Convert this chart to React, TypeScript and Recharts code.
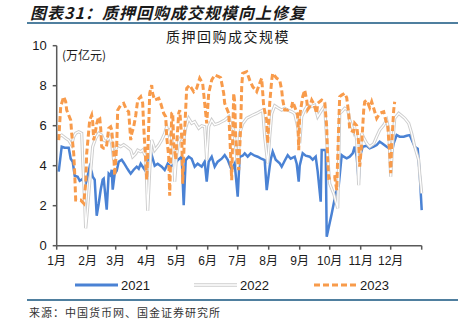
import { LineChart, Line, XAxis, YAxis } from 'recharts'

// x = day of year (0 = 1月1日), y = 万亿元
const monthTicks = [0, 31, 59, 90, 120, 151, 181, 212, 243, 273, 304, 334, 365]
const monthLabels = ['1月', '2月', '3月', '4月', '5月', '6月', '7月', '8月', '9月', '10月', '11月', '12月', '']
const yTicks = [0, 2, 4, 6, 8, 10]

const days2021 = [2, 5, 8, 12, 14, 16, 18, 21, 23, 25, 27, 29, 31, 33, 35, 36, 38, 40, 42, 44, 46, 47, 50, 52, 54, 55, 56, 58, 60, 62, 65, 67, 70, 72, 74, 77, 80, 82, 84, 86, 88, 90, 93, 95, 98, 101, 105, 108, 111, 114, 118, 121, 125, 127, 129, 132, 135, 138, 141, 145, 148, 150, 152, 155, 158, 161, 165, 168, 171, 175, 178, 181, 183, 186, 188, 191, 194, 198, 201, 204, 208, 210, 213, 214, 216, 219, 223, 225, 228, 231, 234, 238, 240, 242, 243, 246, 249, 253, 256, 259, 261, 264, 265, 269, 270, 275, 279, 282, 285, 287, 290, 293, 296, 298, 300, 302, 303, 306, 310, 313, 317, 320, 323, 326, 330, 333, 335, 337, 340, 343, 347, 350, 353, 355, 358, 361, 363, 365]
const vals2021 = [3.7, 4.95, 4.9, 4.9, 4.35, 4.2, 3.5, 3.45, 3.25, 3.3, 3.4, 3.1, 3.5, 3.95, 3.7, 3.45, 3.3, 1.5, 2.1, 2.8, 3.3, 3.35, 1.8, 3.6, 3.5, 3.8, 2.8, 3.6, 3.75, 4.2, 4.3, 4.15, 3.9, 3.75, 3.6, 3.8, 3.95, 3.85, 4.1, 3.95, 3.8, 4.2, 4.35, 4.53, 4.0, 4.1, 3.95, 3.78, 4.1, 3.95, 4.1, 4.28, 4.45, 2.03, 4.28, 4.45, 4.35, 3.95, 4.1, 3.95, 4.2, 3.2, 4.2, 4.45, 3.95, 4.2, 4.35, 4.53, 4.3, 3.78, 4.1, 2.45, 4.45, 4.5, 4.62, 4.45, 4.62, 4.5, 4.45, 4.37, 4.28, 2.78, 3.95, 4.3, 4.7, 4.3, 4.12, 3.95, 4.25, 4.53, 4.35, 4.45, 4.1, 3.2, 4.0, 4.62, 4.5, 4.45, 4.3, 4.45, 3.7, 2.2, 4.78, 4.78, 0.45, 1.6, 2.6, 3.0, 4.53, 4.45, 4.37, 4.45, 4.62, 4.95, 4.45, 3.2, 4.4, 4.95, 5.0, 4.87, 4.95, 5.03, 5.2, 5.1, 4.95, 4.85, 4.62, 5.12, 5.53, 5.45, 5.45, 5.5, 5.53, 5.3, 4.95, 4.85, 3.62, 1.78]

const days2022 = [2, 5, 9, 12, 15, 17, 19, 22, 25, 26, 28, 29, 31, 34, 36, 39, 42, 45, 47, 50, 53, 55, 57, 59, 61, 64, 67, 70, 74, 76, 79, 81, 84, 86, 89, 91, 93, 95, 97, 98, 102, 105, 108, 110, 112, 114, 117, 118, 120, 122, 124, 127, 129, 132, 135, 138, 142, 145, 148, 150, 152, 155, 158, 162, 165, 168, 172, 174, 177, 179, 181, 183, 186, 190, 193, 196, 200, 203, 206, 208, 211, 213, 215, 218, 221, 225, 228, 231, 235, 238, 241, 243, 245, 248, 251, 254, 258, 261, 265, 268, 271, 273, 277, 281, 283, 285, 288, 291, 293, 297, 298, 300, 302, 303, 305, 307, 310, 313, 317, 320, 323, 327, 330, 332, 334, 336, 338, 342, 345, 348, 352, 355, 358, 362, 363, 365]
const vals2022 = [5.45, 5.53, 5.37, 5.28, 5.03, 5.45, 5.62, 5.7, 5.62, 4.28, 2.12, 0.87, 1.95, 3.78, 4.95, 5.37, 5.62, 5.53, 5.28, 5.2, 5.45, 5.1, 4.28, 4.8, 5.03, 4.95, 5.05, 4.95, 4.78, 4.45, 4.6, 4.78, 4.7, 4.78, 4.45, 1.75, 3.78, 5.28, 5.0, 4.78, 5.03, 5.28, 5.62, 5.95, 5.6, 5.87, 4.45, 3.2, 4.6, 5.2, 5.4, 5.28, 5.9, 6.37, 6.12, 6.2, 5.87, 6.0, 5.95, 4.28, 5.95, 6.28, 6.05, 6.12, 6.2, 6.28, 6.45, 6.1, 5.78, 4.95, 3.95, 5.62, 6.1, 6.37, 6.45, 6.53, 6.62, 6.7, 6.78, 5.45, 4.12, 5.45, 6.6, 7.0, 6.9, 6.78, 6.87, 6.78, 6.7, 6.6, 5.95, 5.12, 6.45, 6.78, 7.03, 6.95, 7.03, 6.45, 6.78, 7.0, 4.45, 3.1, 2.6, 1.87, 6.62, 6.7, 6.87, 6.8, 6.28, 5.7, 5.9, 5.28, 3.03, 4.28, 5.62, 5.4, 5.12, 4.95, 5.1, 5.45, 5.78, 6.03, 6.28, 5.8, 3.45, 5.12, 6.37, 6.62, 6.5, 6.37, 6.12, 5.62, 4.95, 4.28, 3.62, 2.62]

const days2023 = [2, 4, 7, 9, 10, 14, 15, 17, 18, 19, 24, 27, 29, 30, 33, 35, 36, 37, 39, 40, 42, 43, 44, 45, 47, 49, 50, 52, 54, 55, 57, 58, 60, 61, 64, 67, 70, 72, 74, 75, 77, 79, 81, 84, 86, 87, 89, 90, 92, 93, 95, 96, 98, 102, 104, 107, 109, 110, 112, 113, 114, 115, 116, 117, 119, 122, 123, 125, 126, 128, 130, 133, 137, 140, 143, 146, 149, 150, 152, 155, 158, 162, 164, 167, 168, 172, 173, 175, 177, 178, 179, 180, 182, 184, 185, 186, 190, 193, 196, 200, 203, 205, 207, 210, 211, 213, 215, 216, 220, 223, 225, 226, 228, 231, 235, 236, 238, 241, 242, 243, 246, 248, 250, 251, 253, 255, 257, 260, 261, 265, 268, 270, 271, 272, 278, 280, 282, 283, 285, 288, 290, 292, 293, 297, 298, 300, 302, 303, 305, 307, 308, 310, 313, 315, 317, 320, 323, 327, 329, 331, 333, 334, 335, 337, 338]
const vals2023 = [5.28, 6.95, 7.45, 7.2, 6.78, 6.28, 5.62, 4.62, 3.62, 2.28, 2.28, 2.12, 3.12, 4.62, 6.28, 6.53, 6.2, 5.28, 5.78, 6.1, 6.45, 6.4, 5.87, 4.95, 4.87, 4.87, 5.03, 5.87, 5.95, 5.8, 4.62, 3.5, 5.0, 6.78, 7.03, 7.12, 6.78, 6.7, 5.28, 5.6, 5.95, 6.5, 7.28, 7.45, 7.12, 5.95, 4.28, 3.3, 5.95, 7.62, 8.03, 7.6, 7.28, 7.37, 7.12, 6.62, 6.45, 5.45, 4.45, 2.5, 4.5, 6.62, 6.65, 5.12, 4.3, 6.62, 6.78, 5.45, 3.1, 5.8, 7.87, 8.03, 7.7, 7.87, 8.37, 8.1, 6.62, 6.12, 7.62, 8.28, 8.53, 8.45, 8.4, 7.62, 7.12, 6.62, 5.62, 3.28, 7.62, 7.2, 5.4, 4.8, 3.78, 5.95, 7.95, 8.62, 8.7, 8.28, 7.95, 7.7, 8.12, 8.37, 6.95, 6.28, 5.12, 7.12, 8.28, 8.62, 8.37, 8.28, 7.78, 7.3, 6.78, 6.78, 6.95, 7.2, 6.95, 6.53, 4.78, 6.5, 7.45, 7.78, 7.28, 6.8, 6.95, 7.28, 7.1, 6.62, 7.12, 7.28, 7.2, 5.95, 4.28, 3.37, 3.45, 2.78, 6.03, 7.45, 7.53, 7.62, 7.4, 6.62, 5.78, 5.7, 6.12, 6.0, 5.12, 3.95, 5.1, 6.78, 7.2, 7.28, 6.9, 7.2, 6.87, 6.37, 6.62, 6.7, 6.28, 6.0, 4.62, 3.62, 5.1, 6.78, 7.2]

const toPoints = (days: number[], vals: number[]) => days.map((d, i) => ({ d, v: vals[i] }))

const data2021 = toPoints(days2021, vals2021)
const data2022 = toPoints(days2022, vals2022)
const data2023 = toPoints(days2023, vals2023)

const BLUE = '#4a82d4'
const GRAY = '#cdcdcd'
const ORANGE = '#f89b4b'
const AXIS = '#595959'
const FONT = '"Liberation Sans", Arial, "Noto Sans CJK SC", sans-serif'
const CJK = '"Noto Sans CJK SC", sans-serif'

function LegendItem({ left, label, kind }: { left: number; label: string; kind: 'blue' | 'gray' | 'orange' }) {
  return (
    <div style={{ position: 'absolute', left, top: 277, display: 'flex', alignItems: 'center', height: 16 }}>
      <svg width={43} height={8} style={{ display: 'block' }}>
        {kind === 'blue' && <line x1={0} y1={4} x2={43} y2={4} stroke={BLUE} strokeWidth={3} />}
        {kind === 'gray' && (
          <>
            <line x1={0} y1={4} x2={43} y2={4} stroke={GRAY} strokeWidth={3.5} />
            <line x1={0} y1={4} x2={43} y2={4} stroke="#fff" strokeWidth={1.5} />
          </>
        )}
        {kind === 'orange' && (
          <line x1={0} y1={4} x2={43} y2={4} stroke={ORANGE} strokeWidth={3} strokeDasharray="6 3" />
        )}
      </svg>
      <span style={{ marginLeft: 3, fontFamily: FONT, fontSize: 13, color: '#1a1a1a' }}>{label}</span>
    </div>
  )
}

export default function App() {
  return (
    <div style={{ position: 'absolute', left: 0, top: 0, width: 458, height: 326, background: '#fff', overflow: 'hidden' }}>
      <div
        style={{
          position: 'absolute',
          left: 30,
          top: 0,
          fontFamily: CJK,
          fontSize: 16,
          fontWeight: 700,
          fontStyle: 'italic',
          letterSpacing: 1.0,
          color: '#1a1a1a',
          whiteSpace: 'nowrap',
          lineHeight: 'normal',
          paddingRight: 4,
        }}
      >
        图表31：质押回购成交规模向上修复
      </div>
      <div style={{ position: 'absolute', left: 27, top: 22, width: 431, height: 2, background: '#4f7f9f' }} />

      <LineChart width={458} height={326} margin={{ top: 45.7, right: 36.3, bottom: 50.3, left: 16.7 }}>
        <XAxis
          type="number"
          dataKey="d"
          domain={[0, 365]}
          ticks={monthTicks}
          tickFormatter={(v: number) => monthLabels[monthTicks.indexOf(v)] ?? ''}
          interval={0}
          height={30}
          allowDuplicatedCategory={false}
          axisLine={{ stroke: AXIS, strokeWidth: 1.5 }}
          tickLine={{ stroke: AXIS, strokeWidth: 1.5 }}
          tickSize={4}
          tickMargin={7}
          tick={{ fill: '#1a1a1a', fontSize: 12, fontFamily: FONT }}
        />
        <YAxis
          type="number"
          domain={[0, 10]}
          ticks={yTicks}
          interval={0}
          width={40}
          axisLine={{ stroke: AXIS, strokeWidth: 1.5 }}
          tickLine={{ stroke: AXIS, strokeWidth: 1.5 }}
          tickSize={4}
          tickMargin={6}
          tick={{ fill: '#1a1a1a', fontSize: 13, fontFamily: FONT }}
        />
        <Line data={data2021} dataKey="v" type="linear" stroke={BLUE} strokeWidth={2.5} dot={false} isAnimationActive={false} />
        <Line data={data2022} dataKey="v" type="linear" stroke={GRAY} strokeWidth={3.2} dot={false} isAnimationActive={false} />
        <Line data={data2022} dataKey="v" type="linear" stroke="#ffffff" strokeWidth={1.3} dot={false} isAnimationActive={false} />
        <Line
          data={data2023}
          dataKey="v"
          type="linear"
          stroke={ORANGE}
          strokeWidth={3}
          strokeDasharray="6 3"
          dot={false}
          isAnimationActive={false}
        />
      </LineChart>

      <div
        style={{
          position: 'absolute',
          left: 166,
          top: 27,
          fontFamily: CJK,
          fontSize: 14,
          letterSpacing: 1.5,
          color: '#1a1a1a',
          whiteSpace: 'nowrap',
          lineHeight: '18px',
        }}
      >
        质押回购成交规模
      </div>
      <div
        style={{
          position: 'absolute',
          left: 62,
          top: 47,
          fontFamily: CJK,
          fontSize: 12,
          color: '#1a1a1a',
          whiteSpace: 'nowrap',
          lineHeight: '16px',
        }}
      >
        (万亿元)
      </div>

      <LegendItem left={75} label="2021" kind="blue" />
      <LegendItem left={194} label="2022" kind="gray" />
      <LegendItem left={314} label="2023" kind="orange" />

      <div style={{ position: 'absolute', left: 27, top: 299, width: 431, height: 2, background: '#4f7f9f' }} />
      <div
        style={{
          position: 'absolute',
          left: 29,
          top: 304,
          fontFamily: CJK,
          fontSize: 11,
          letterSpacing: 1,
          color: '#333',
          whiteSpace: 'nowrap',
          lineHeight: '16px',
        }}
      >
        来源：中国货币网、国金证券研究所
      </div>
    </div>
  )
}
